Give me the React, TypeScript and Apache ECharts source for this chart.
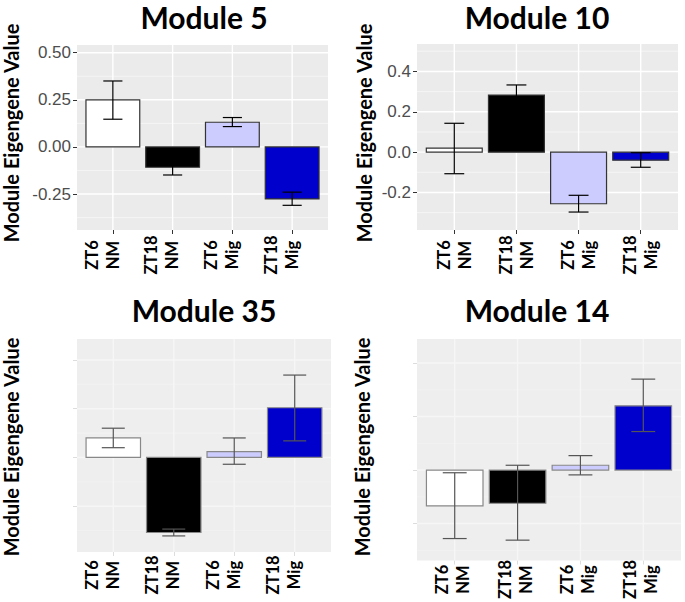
import React, { useEffect, useRef } from 'react';
import * as echarts from 'echarts';

// ---------- data ----------
const categories = ['ZT6\nNM', 'ZT18\nNM', 'ZT6\nMig', 'ZT18\nMig'];
const categoryPositions = [0, 1, 2, 3];
const barColors = ['#FFFFFF', '#000000', '#CCCCFF', '#0000CD'];
const titles = ['Module 5', 'Module 10', 'Module 35', 'Module 14'];
const yAxisTitle = 'Module Eigengene Value';

const m5Values = [0.25, -0.108, 0.131, -0.276];
const m5Low = [0.147, -0.149, 0.108, -0.31];
const m5High = [0.35, -0.067, 0.156, -0.24];

const m10Values = [0.02, 0.283, -0.256, -0.04];
const m10Low = [-0.107, 0.233, -0.297, -0.075];
const m10High = [0.143, 0.333, -0.214, -0.003];

const m35Values = [0.04, -0.154, 0.012, 0.102];
const m35Low = [0.02, -0.161, -0.014, 0.034];
const m35High = [0.06, -0.147, 0.04, 0.169];

const m14Values = [-0.067, -0.062, 0.009, 0.12];
const m14Low = [-0.128, -0.131, -0.009, 0.072];
const m14High = [-0.005, 0.009, 0.027, 0.17];

const m5Ticks = [-0.25, 0, 0.25, 0.5];
const m5TickLabels = ['-0.25', '0.00', '0.25', '0.50'];
const m10Ticks = [-0.2, 0, 0.2, 0.4];
const m10TickLabels = ['-0.2', '0.0', '0.2', '0.4'];
const m35Ticks = [-0.1, 0, 0.1, 0.2];
const m14Ticks = [-0.1, 0, 0.1, 0.2];

const yRanges = [
  [-0.441, 0.541],
  [-0.386, 0.536],
  [-0.194, 0.243],
  [-0.169, 0.245],
];

// ---------- layout / style ----------
// labelShift: horizontal offset (in category units) of the rotated tick labels
const panels = [
  { values: m5Values, low: m5Low, high: m5High, ticks: m5Ticks, tickLabels: m5TickLabels,
    rect: [77, 45, 251, 185], faded: false, labelShift: -0.18, labelMargin: 25,
    titlePos: [204, 17], yTitlePos: [11, 133] },
  { values: m10Values, low: m10Low, high: m10High, ticks: m10Ticks, tickLabels: m10TickLabels,
    rect: [417, 44, 261, 186], faded: false, labelShift: 0, labelMargin: 25,
    titlePos: [537, 17], yTitlePos: [364, 133] },
  { values: m35Values, low: m35Low, high: m35High, ticks: m35Ticks, tickLabels: null,
    rect: [77, 339, 254, 213], faded: true, labelShift: -0.18, labelMargin: 23,
    titlePos: [204, 310], yTitlePos: [11, 447] },
  { values: m14Values, low: m14Low, high: m14High, ticks: m14Ticks, tickLabels: null,
    rect: [417, 339, 264, 222], faded: true, labelShift: -0.04, labelMargin: 19,
    titlePos: [537, 310], yTitlePos: [362, 447] },
];

const X_MIN = -0.6;
const X_MAX = 3.6;
const BAR_HALF = 0.45;

function minorTicks(ticks: number[], lo: number, hi: number): number[] {
  const step = ticks[1] - ticks[0];
  const out: number[] = [];
  for (let i = -1; i < ticks.length; i++) {
    const m = ticks[0] + (i + 0.5) * step;
    if (m > lo && m < hi) out.push(m);
  }
  return out;
}

function buildOption() {
  const grid: any[] = [];
  const xAxis: any[] = [];
  const yAxis: any[] = [];
  const series: any[] = [];
  const graphic: any[] = [];

  panels.forEach((p, i) => {
    const [left, top, width, height] = p.rect;
    const [yMin, yMax] = yRanges[i];
    grid.push({
      left, top, width, height, show: true,
      backgroundColor: p.faded ? '#EEEEEE' : '#EBEBEB',
      borderWidth: 0, containLabel: false,
    });
    const labelPositions = categoryPositions.map((c) => c + p.labelShift);
    xAxis.push({
      type: 'value', gridIndex: i, min: X_MIN, max: X_MAX, position: 'bottom',
      axisLine: { show: false, onZero: false },
      splitLine: { show: false },
      axisTick: { show: true, customValues: categoryPositions, length: 4,
        lineStyle: { color: p.faded ? '#DDDDDD' : '#333333', width: 1 } },
      axisLabel: {
        customValues: labelPositions,
        formatter: (v: number) => categories[Math.round(v - p.labelShift)],
        showMinLabel: true, showMaxLabel: true, hideOverlap: false,
        rotate: 90, align: 'center', verticalAlign: 'middle',
        margin: p.labelMargin,
        fontFamily: 'Lato', fontWeight: 'bold', fontSize: 16.5, lineHeight: 21,
        color: '#000000',
      },
    });
    yAxis.push({
      type: 'value', gridIndex: i, min: yMin, max: yMax, position: 'left',
      axisLine: { show: false, onZero: false },
      splitLine: { show: false },
      axisTick: { show: true, customValues: p.ticks, length: 4,
        lineStyle: { color: p.faded ? '#DDDDDD' : '#333333', width: 1 } },
      axisLabel: p.tickLabels ? {
        customValues: p.ticks,
        showMinLabel: true, showMaxLabel: true,
        formatter: (v: number) => {
          const k = p.ticks.findIndex((t) => Math.abs(t - v) < 1e-9);
          return k >= 0 ? p.tickLabels![k] : '';
        },
        margin: 6, fontFamily: 'Liberation Sans', fontSize: 17, color: '#4D4D4D',
      } : { show: false },
    });

    const minors = minorTicks(p.ticks, yMin, yMax);
    const majorColor = p.faded ? '#F6F6F6' : '#FFFFFF';
    const minorColor = p.faded ? '#F2F2F2' : '#F7F7F7';
    // horizontal grid lines (major = 1, minor = 0), drawn through the axes' scales
    const hLines = [...minors.map((m) => [m, 0]), ...p.ticks.map((t) => [t, 1])];
    series.push({
      type: 'custom', xAxisIndex: i, yAxisIndex: i, z: 1, silent: true,
      encode: { x: -1, y: 0 },
      data: hLines,
      renderItem: (_params: any, api: any) => {
        const y = api.coord([0, api.value(0)])[1];
        const xl = api.coord([X_MIN, 0])[0];
        const xr = api.coord([X_MAX, 0])[0];
        const major = api.value(1) === 1;
        return { type: 'line', shape: { x1: xl, y1: y, x2: xr, y2: y },
          style: { stroke: major ? majorColor : minorColor, lineWidth: major ? 1.4 : 0.8 } };
      },
    });
    // vertical grid lines at the categories
    series.push({
      type: 'custom', xAxisIndex: i, yAxisIndex: i, z: 1, silent: true,
      encode: { x: 0, y: -1 },
      data: categoryPositions.map((c) => [c]),
      renderItem: (_params: any, api: any) => {
        const x = api.coord([api.value(0), 0])[0];
        const yb = api.coord([0, yMin])[1];
        const yt = api.coord([0, yMax])[1];
        return { type: 'line', shape: { x1: x, y1: yt, x2: x, y2: yb },
          style: { stroke: majorColor, lineWidth: 1.4 } };
      },
    });

    const capHalf = p.faded ? 0.19 : 0.16;
    const barStroke = p.faded ? '#888888' : '#333333';
    const errStroke = p.faded ? '#555555' : '#000000';
    series.push({
      type: 'custom', xAxisIndex: i, yAxisIndex: i, z: 2, silent: true,
      data: categoryPositions.map((c, k) => [c, p.values[k], p.low[k], p.high[k]]),
      renderItem: (params: any, api: any) => {
        const x = api.value(0);
        const v = api.value(1);
        const lo = api.value(2);
        const hi = api.value(3);
        const a = api.coord([x - BAR_HALF, 0]);
        const b = api.coord([x + BAR_HALF, v]);
        const eLo = api.coord([x, lo]);
        const eHi = api.coord([x, hi]);
        const cl = api.coord([x - capHalf, 0])[0];
        const cr = api.coord([x + capHalf, 0])[0];
        return {
          type: 'group',
          children: [
            { type: 'rect',
              shape: { x: Math.min(a[0], b[0]), y: Math.min(a[1], b[1]),
                width: Math.abs(b[0] - a[0]), height: Math.abs(b[1] - a[1]) },
              style: { fill: barColors[params.dataIndex], stroke: barStroke, lineWidth: 1.2 } },
            { type: 'line', shape: { x1: eLo[0], y1: eLo[1], x2: eHi[0], y2: eHi[1] },
              style: { stroke: errStroke, lineWidth: 1.2 } },
            { type: 'line', shape: { x1: cl, y1: eLo[1], x2: cr, y2: eLo[1] },
              style: { stroke: errStroke, lineWidth: 1.2 } },
            { type: 'line', shape: { x1: cl, y1: eHi[1], x2: cr, y2: eHi[1] },
              style: { stroke: errStroke, lineWidth: 1.2 } },
          ],
        };
      },
    });

    graphic.push({
      type: 'text', x: p.titlePos[0], y: p.titlePos[1],
      style: { text: titles[i], fill: '#000000', font: 'bold 30px Lato',
        textAlign: 'center', textVerticalAlign: 'middle' },
    });
    graphic.push({
      type: 'text', x: p.yTitlePos[0], y: p.yTitlePos[1], rotation: Math.PI / 2,
      style: { text: yAxisTitle, fill: '#000000', font: 'bold 20px Lato',
        textAlign: 'center', textVerticalAlign: 'middle' },
    });
  });

  return {
    animation: false,
    backgroundColor: '#FFFFFF',
    grid, xAxis, yAxis, series, graphic,
  };
}

export default function App() {
  const ref = useRef<HTMLDivElement>(null);
  useEffect(() => {
    if (!ref.current) return;
    const chart = echarts.init(ref.current, null, { renderer: 'svg' });
    chart.setOption(buildOption() as any);
    return () => chart.dispose();
  }, []);
  return (
    <div
      ref={ref}
      style={{ position: 'absolute', left: 0, top: 0, width: 685, height: 602, background: '#FFFFFF' }}
    />
  );
}
